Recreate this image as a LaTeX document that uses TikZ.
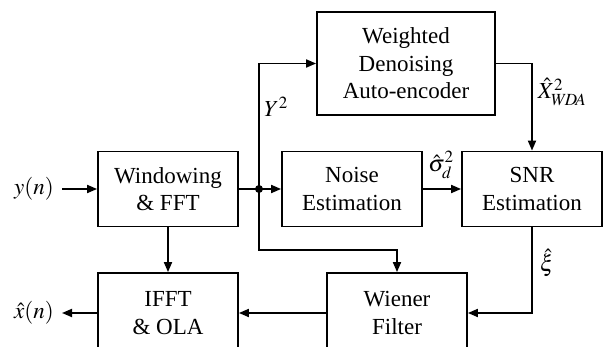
\documentclass[tikz,border=0pt]{standalone}
\usepackage{mathptmx}
\usepackage{fontspec}
\setmainfont{Liberation Serif}
\usetikzlibrary{arrows.meta,calc}

\tikzset{
  block/.style={draw, line width=1.8pt, rectangle, inner sep=0pt,
    minimum width=140pt, minimum height=75pt, align=center,
    font=\fontsize{23}{27.5}\selectfont},
  sig/.style={inner sep=0pt, font=\fontsize{23}{27.5}\selectfont},
  wire/.style={line width=1.8pt},
  flow/.style={wire, -{Triangle[length=10pt,width=8pt]}},
}

\begin{document}
\begin{tikzpicture}[x=1pt, y=-1pt]
  \clip (0,0) rectangle (603,347);

  % processing blocks
  \node[block] (fft)    at (168,189)  {Windowing\\\& FFT};
  \node[block] (noise)  at (352,189)  {Noise\\Estimation};
  \node[block] (snr)    at (532,189)  {SNR\\Estimation};
  \node[block, minimum width=178pt, minimum height=103pt] (wda) at (406,63.5)
        {Weighted\\Denoising\\Auto-encoder};
  \node[block, minimum height=80pt] (ifft)   at (168,313) {IFFT\\\& OLA};
  \node[block, minimum height=80pt] (wiener) at (397,313) {Wiener\\Filter};

  % input and output signals
  \node[sig] (yin)  at (34,189) {$y(n)$};
  \node[sig] (xout) at (34,313) {$\hat{x}(n)$};
  \coordinate (yinend)  at (62,189);
  \coordinate (xoutend) at (62,313);

  % branch point after the FFT and the lower tap
  \coordinate (j)   at (259,189);
  \coordinate (tap) at (259,250);

  % connections
  \draw[flow] (yinend) -- (fft.west);
  \draw[wire] (fft.east) -- (j);
  \draw[flow] (j) -- (noise.west);
  \draw[flow] (j) |- (wda.west);
  \draw[flow] (j) -- (tap) -| (wiener.north);
  \draw[flow] (wda.east) -| (snr.north);
  \draw[flow] (noise.east) -- (snr.west);
  \draw[flow] (snr.south) |- (wiener.east);
  \draw[flow] (wiener.west) -- (ifft.east);
  \draw[flow] (fft.south) -- (ifft.north);
  \draw[flow] (ifft.west) -- (xoutend);
  \fill (j) circle (4pt);

  % signal labels
  \node[sig] (ylab)  at (276,107) {$Y^2$};
  \node[sig] (slab)  at (441,165) {$\hat{\sigma}_d^2$};
  \node[sig] (xlab)  at (562,92)  {$\hat{X}_{W\!D\!A}^2$};
  \node[sig] (xilab) at (547,263) {$\hat{\xi}$};
\end{tikzpicture}
\end{document}
